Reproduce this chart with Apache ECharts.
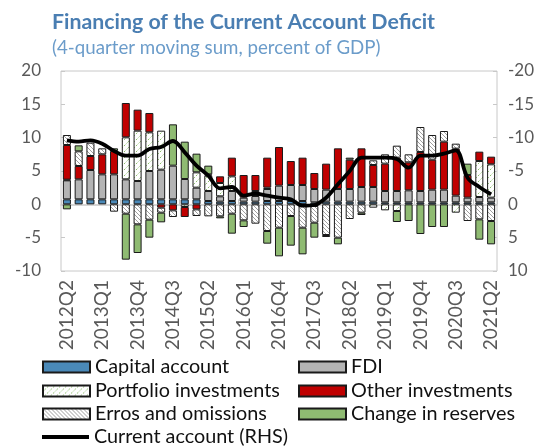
<!DOCTYPE html>
<html>
<head>
<meta charset="utf-8">
<title>Financing of the Current Account Deficit</title>
<script src="https://cdn.jsdelivr.net/npm/echarts@6/dist/echarts.min.js"></script>
<style>
  html, body { margin: 0; padding: 0; background: #fff; }
</style>
</head>
<body>
<div id="chartmain" style="width:549px; height:447px;"></div>
<script type="text/javascript">
// quarters 2012Q2 .. 2021Q2
var quarters = [];
for (var y = 2012; y <= 2021; y++) {
    for (var q = 1; q <= 4; q++) {
        if ((y === 2012 && q < 2) || (y === 2021 && q > 2)) continue;
        quarters.push(y + 'Q' + q);
    }
}

// percent of GDP
var capital   = [0.75,0.75,0.75,0.75,0.75,0.75,0.75,0.75,0.75,0.75,0.75,0.75,0.5,0.4,0.5,0.4,0.4,0.5,0.5,0.5,0.5,0.3,0.4,0.4,0.4,0.4,0.4,0.3,0.3,0.3,0.3,0.3,0.3,0.3,0.3,0.3,0.3];
var fdi       = [2.85,3.0,4.4,3.75,3.75,3.0,2.75,4.25,4.45,5.05,3.05,1.75,1.5,0.8,1.5,0.6,0.85,1.8,2.3,2.4,2.4,2.0,1.8,1.9,1.9,2.2,2.2,1.7,1.7,1.8,1.7,1.9,1.9,1.0,0.7,0.8,0.7];
var portfolio = [0.1,0,0,0,0,6.3,7.55,5.8,5.85,0,-0.4,2.3,2.3,2.0,2.2,0,0.75,0.2,0,0,0,-0.25,0,0,0,0,-0.5,-0.9,-1.0,0,0,0,0,-1.25,0,5.4,5.0];
var other     = [5.2,2.0,2.1,3.0,3.5,5.15,3.15,2.9,-0.5,-0.9,-1.5,-0.75,0.2,1.0,2.8,3.4,2.4,4.5,5.8,3.6,4.1,2.4,3.9,6.1,4.4,5.8,3.3,4.1,5.0,4.2,5.85,4.5,7.2,7.05,3.4,1.4,1.15];
var errors    = [1.5,2.2,2.0,0.9,-1.1,-1.4,-3.0,-2.3,-0.75,-1.0,0,-1.0,-1.8,-1.8,-1.4,-2.4,-2.9,-4.0,-3.5,-1.75,-3.5,-2.5,-4.6,-5.0,-2.2,-1.25,0.7,1.4,1.8,1.2,3.75,3.7,1.6,0.75,-2.5,-2.25,-2.5];
var reserves  = [-0.75,0.9,0,0,0.4,-6.9,-4.3,-2.7,-1.45,6.2,5.6,2.8,1.3,-0.3,-3.0,-1.0,0,-1.9,-4.3,-4.45,-4.0,-2.25,-0.3,-1.0,0.3,-0.35,0,0,-1.65,-2.5,-4.45,-3.4,-3.4,0,1.7,-3.05,-3.5];
// current account balance (RHS, inverted axis)
var currentAccount = [-9.6,-9.4,-9.6,-9.1,-8.0,-7.3,-7.3,-8.3,-8.6,-9.5,-7.8,-5.8,-4.3,-2.4,-2.6,-1.3,-1.6,-1.3,-1.0,-0.75,0.2,0.1,-1.0,-3.0,-5.0,-7.0,-7.0,-7.0,-6.8,-5.5,-7.3,-7.3,-7.6,-8.1,-4.0,-2.6,-1.5];

var leftTicks = [-10, 20, 5];
var rightTicks = [-20, 10, 5];

// hatch fills like the excel chart
function hatch(fg, step, back, dashed) {
    var c = document.createElement('canvas');
    c.width = step; c.height = step;
    var g = c.getContext('2d');
    g.fillStyle = '#fff';
    g.fillRect(0, 0, step, step);
    g.strokeStyle = fg;
    g.lineWidth = 1;
    if (dashed) g.setLineDash([2, 1.5]);
    g.beginPath();
    if (back) {
        g.moveTo(-1, -1); g.lineTo(step + 1, step + 1);
        g.moveTo(-1, step - 1); g.lineTo(1, step + 1);
        g.moveTo(step - 1, -1); g.lineTo(step + 1, 1);
    } else {
        g.moveTo(-1, step + 1); g.lineTo(step + 1, -1);
        g.moveTo(-1, 1); g.lineTo(1, -1);
        g.moveTo(step - 1, step + 1); g.lineTo(step + 1, step - 1);
    }
    g.stroke();
    return { image: c, repeat: 'repeat' };
}

function bar(name, values, color) {
    return {
        name: name,
        type: 'bar',
        stack: 'fin',
        barWidth: '68%',
        data: values.map(function (v) { return v === 0 ? '-' : v; }),
        itemStyle: { color: color, borderColor: '#1a1a1a', borderWidth: 1 }
    };
}

var font = 'Lato, "Open Sans", sans-serif';

// one legend per entry so the two columns line up like the original
function legendAt(name, x, cy, isLine) {
    return {
        left: x, top: cy - 11, padding: 0,
        itemWidth: 47, itemHeight: isLine ? 4 : 11, itemGap: 2,
        icon: 'rect',
        textStyle: { fontFamily: font, fontSize: 19.8, lineHeight: 22, color: '#111' },
        data: isLine ? [{ name: name, itemStyle: { color: '#000', borderWidth: 0 } }] : [name]
    };
}

var option = {
    animation: false,
    textStyle: { fontFamily: font },
    title: {
        text: 'Financing of the Current Account Deficit',
        subtext: '(4-quarter moving sum, percent of GDP)',
        left: 47, top: 7, itemGap: 5,
        textStyle: { fontFamily: font, fontSize: 21.3, fontWeight: 'bold', color: '#4a7eb2' },
        subtextStyle: { fontFamily: font, fontSize: 18.7, color: '#6b9cca' }
    },
    legend: [
        legendAt('Capital account', 42, 367),
        legendAt('Portfolio investments', 42, 391),
        legendAt('Erros and omissions', 42, 414),
        legendAt('Current account (RHS)', 42, 437, true),
        legendAt('FDI', 298, 367),
        legendAt('Other investments', 298, 391),
        legendAt('Change in reserves', 298, 414)
    ],
    grid: {
        left: 61, right: 52, top: 71, bottom: 176,
        show: true, borderColor: '#c8c8c8', borderWidth: 1
    },
    xAxis: [{
        type: 'category',
        data: quarters,
        axisLine: { onZero: false, show: false },
        axisTick: { show: false },
        axisLabel: { interval: 2, rotate: 90, fontSize: 19, color: '#595959', margin: 9, fontFamily: font }
    }, {
        type: 'category',
        data: quarters,
        position: 'bottom',
        axisLine: { onZero: true, lineStyle: { color: '#c8c8c8', width: 1.5 } },
        axisTick: { show: true, inside: true, length: 5, lineStyle: { color: '#c8c8c8' } },
        axisLabel: { show: false }
    }],
    yAxis: [{
        type: 'value',
        min: leftTicks[0], max: leftTicks[1], interval: leftTicks[2],
        axisLine: { show: false },
        axisTick: { show: true, inside: true, length: 4, lineStyle: { color: '#c8c8c8' } },
        splitLine: { show: false },
        axisLabel: { fontSize: 17, color: '#595959', margin: 20, fontFamily: font }
    }, {
        type: 'value',
        inverse: true,
        min: rightTicks[0], max: rightTicks[1], interval: rightTicks[2],
        axisLine: { show: false },
        axisTick: { show: true, inside: true, length: 4, lineStyle: { color: '#c8c8c8' } },
        splitLine: { show: false },
        axisLabel: { fontSize: 17, color: '#595959', margin: 11, fontFamily: font }
    }],
    series: [
        bar('Capital account', capital, '#4a89b8'),
        bar('FDI', fdi, '#b4b4b4'),
        bar('Portfolio investments', portfolio, hatch('#8cbf6a', 6, false, true)),
        bar('Other investments', other, '#c00000'),
        bar('Erros and omissions', errors, hatch('#a0a0a0', 4, true, false)),
        bar('Change in reserves', reserves, '#8fbb72'),
        {
            name: 'Current account (RHS)',
            type: 'line',
            yAxisIndex: 1,
            data: currentAccount,
            smooth: 0.35,
            symbol: 'none',
            z: 5,
            itemStyle: { color: '#000' },
            lineStyle: { color: '#000', width: 3.8 }
        }
    ]
};

var myChart = echarts.init(document.getElementById('chartmain'));
myChart.setOption(option);
</script>
</body>
</html>
